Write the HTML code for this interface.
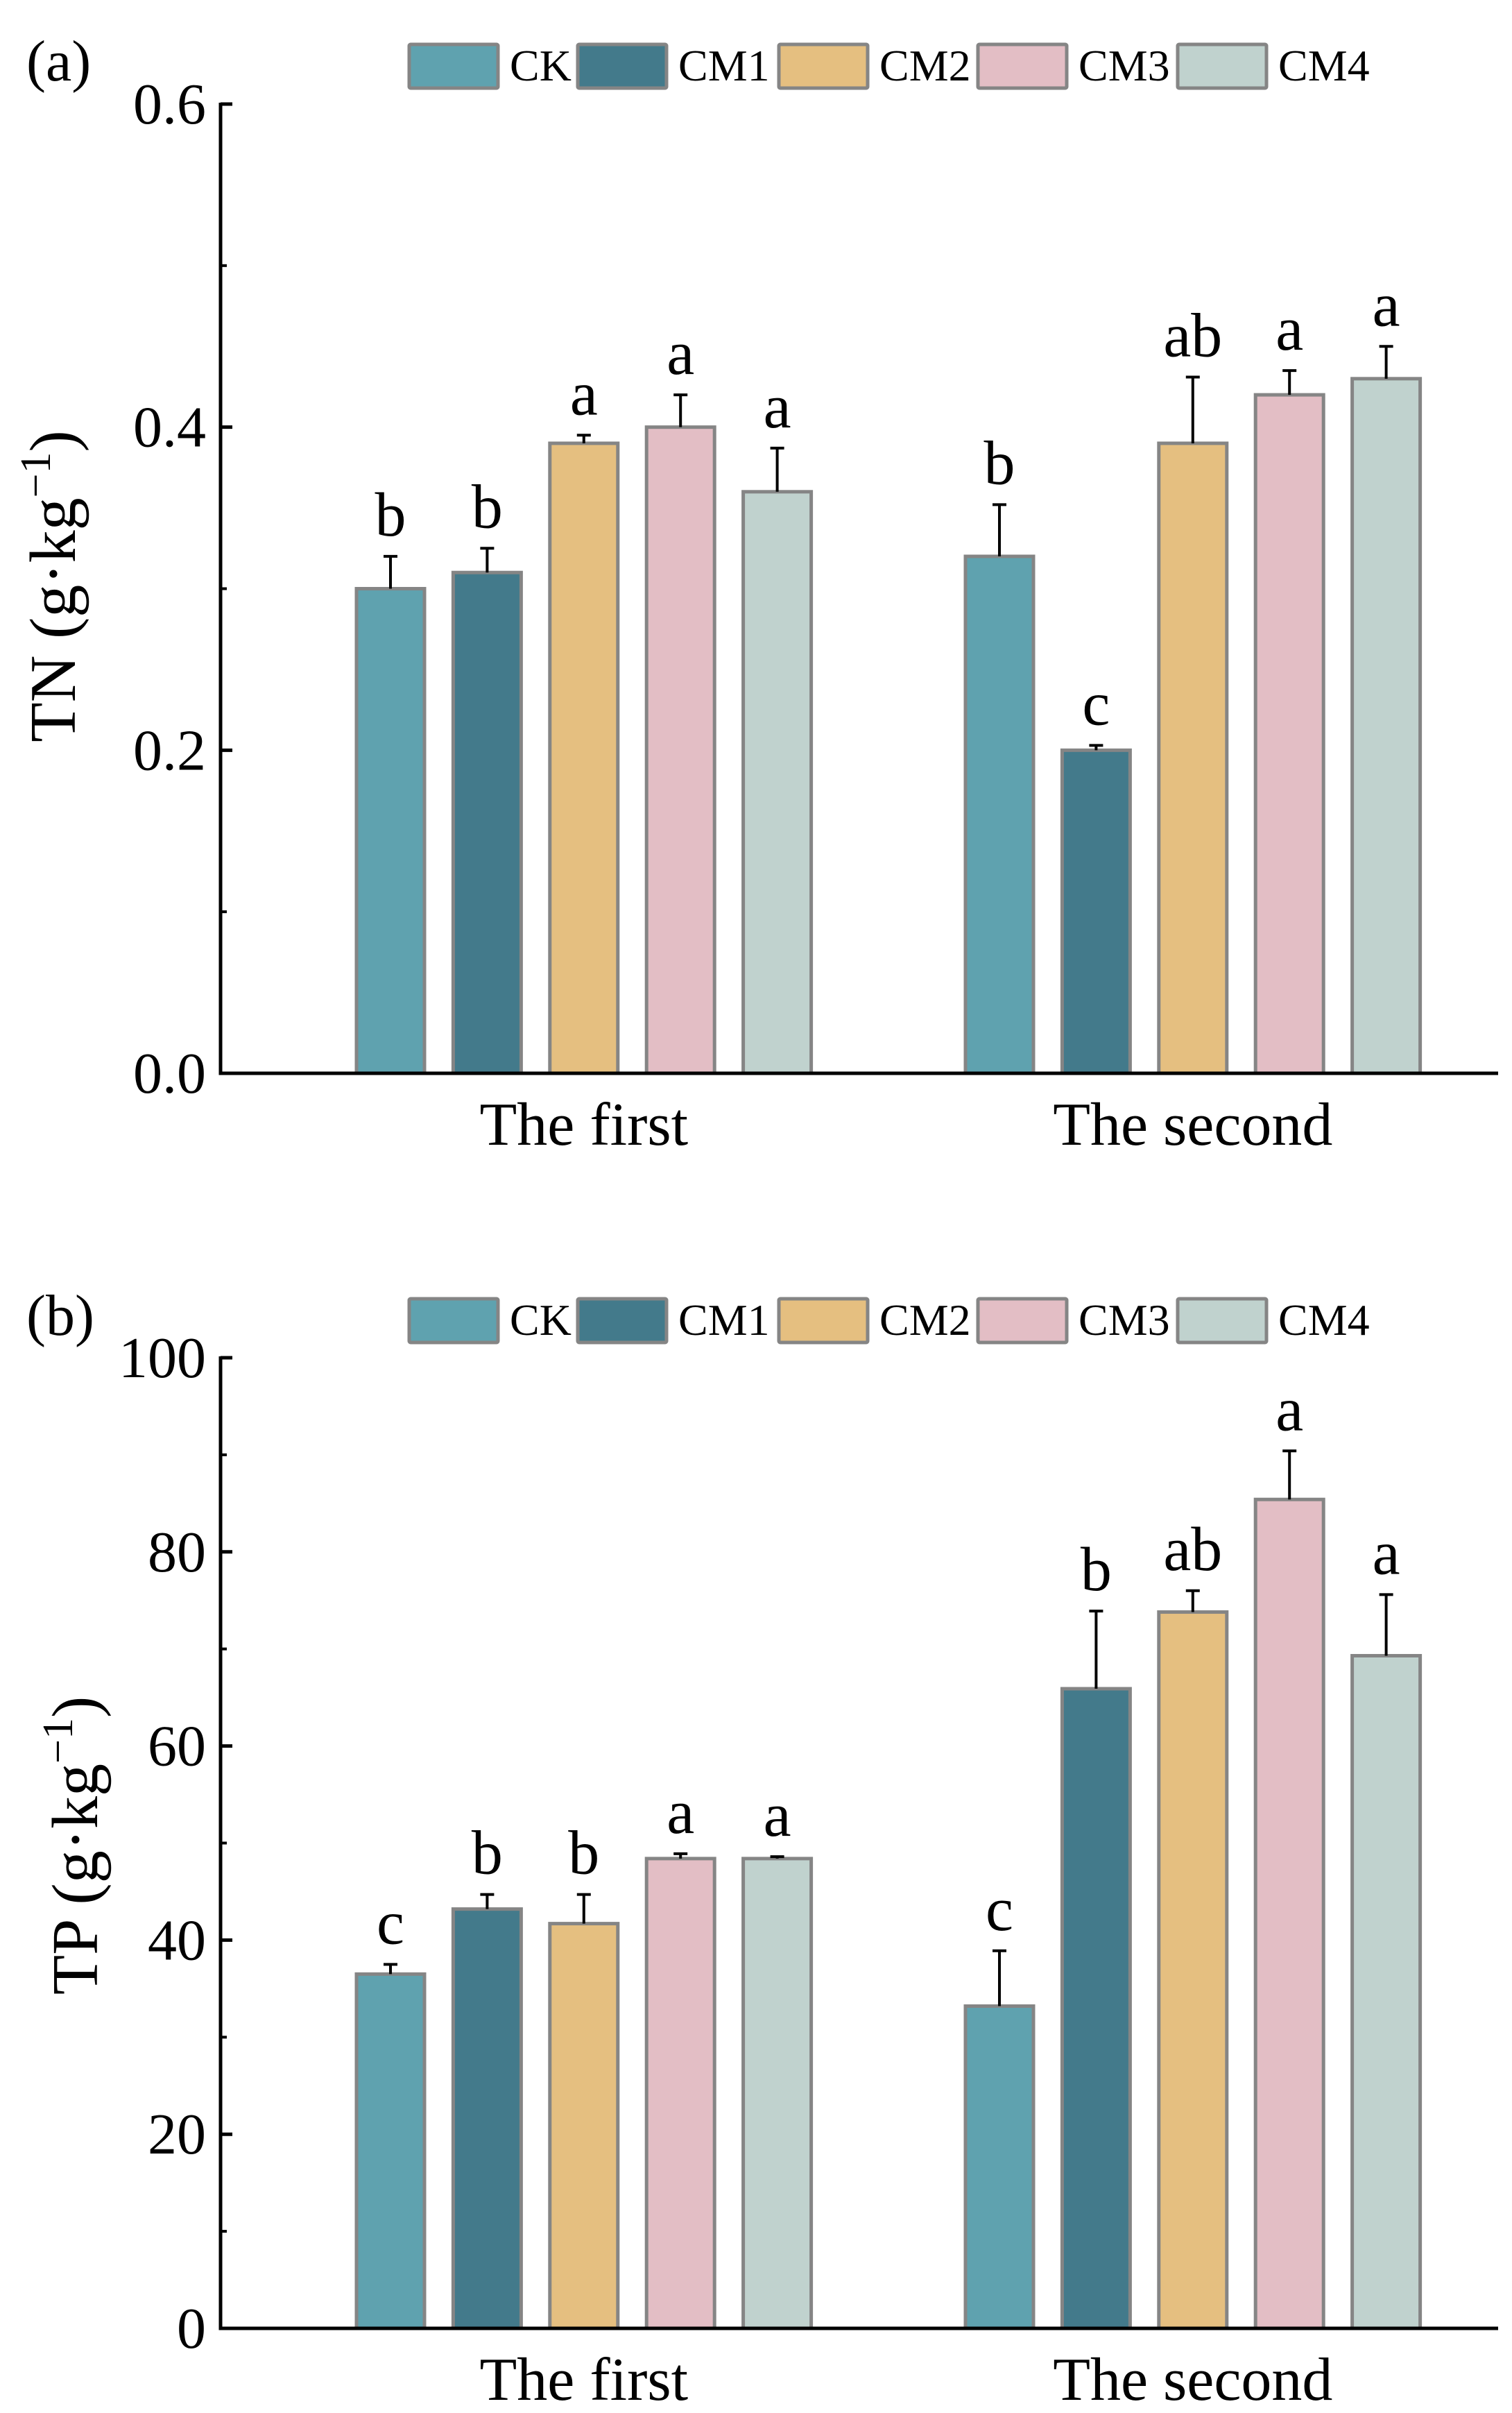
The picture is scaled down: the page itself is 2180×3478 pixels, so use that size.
<!DOCTYPE html>
<html><head><meta charset="utf-8"><style>
html,body{margin:0;padding:0;background:#fff}
svg{display:block}
text{font-family:"Liberation Serif",serif;fill:#000}
</style></head><body>
<svg id="chart" width="2180" height="3478" viewBox="0 0 2180 3478" xmlns="http://www.w3.org/2000/svg"></svg>
<script>
const series = ["CK","CM1","CM2","CM3","CM4"];
const colors = ["#5fa2af","#437a8b","#e5bf80","#e3bec5","#c0d2ce"];
const categories = ["The first","The second"];
const tnValues = [[0.30,0.31,0.39,0.40,0.36],[0.32,0.20,0.39,0.42,0.43]];
const tnErrors = [[0.02,0.015,0.005,0.02,0.027],[0.032,0.003,0.041,0.015,0.02]];
const tnLetters = [["b","b","a","a","a"],["b","c","ab","a","a"]];
const tnTicks = [0,0.2,0.4,0.6];
const tnTickLabels = ["0.0","0.2","0.4","0.6"];
const tpValues = [[36.5,43.2,41.7,48.4,48.4],[33.2,65.9,73.8,85.4,69.3]];
const tpErrors = [[1.0,1.5,3.0,0.5,0.2],[5.7,8.0,2.2,5.0,6.3]];
const tpLetters = [["c","b","b","a","a"],["c","b","ab","a","a"]];
const tpTicks = [0,20,40,60,80,100];
const tpTickLabels = ["0","20","40","60","80","100"];

const NS="http://www.w3.org/2000/svg";
const svg=document.getElementById('chart');
function mk(tag,attrs,parent,txt){const e=document.createElementNS(NS,tag);for(const k in attrs)e.setAttribute(k,attrs[k]);if(txt!==undefined)e.textContent=txt;(parent||svg).appendChild(e);return e;}

function panel(cfg){
  const g=mk('g',{});
  
  
  const x0=318,x1=2160,yb=cfg.y0,yt=cfg.yTop,vmax=cfg.max;
  const yScale=v=>yb-(v/vmax)*(yb-yt);
  const xScale=(gi,si)=>563+gi*878+si*139.4;
  for(let i=0;i<cfg.ticks.length-1;i++){
    const v=(cfg.ticks[i]+cfg.ticks[i+1])/2;
    const t=mk('line',{x1:x0,x2:x0+9,y1:yScale(v),y2:yScale(v),stroke:'#000','stroke-width':4},g);
    
    
  }
  cfg.ticks.forEach((v,i)=>{
    const t=mk('line',{x1:x0,x2:x0+17,y1:yScale(v),y2:yScale(v),stroke:'#000','stroke-width':5},g);
    
    
    const l=mk('text',{x:297,y:yScale(v)+28,'text-anchor':'end','font-size':84},g,cfg.labels[i]);
    
    
  });
  cfg.values.forEach((grp,gi)=>{
    grp.forEach((v,si)=>{
      const cx=xScale(gi,si);
      const r=mk('rect',{x:cx-49,y:yScale(v),width:98,height:yb-yScale(v),fill:colors[si],stroke:'#858585','stroke-width':5},g);
      
      
      const et=yScale(v+cfg.errors[gi][si]);
      const e1=mk('line',{x1:cx,x2:cx,y1:yScale(v),y2:et,stroke:'#000','stroke-width':4},g);
      
      
      const e2=mk('line',{x1:cx-10,x2:cx+10,y1:et,y2:et,stroke:'#000','stroke-width':4},g);
      
      
      const lt=mk('text',{x:cx,y:et-30,'text-anchor':'middle','font-size':90},g,cfg.letters[gi][si]);
      
      
    });
  });
  const ax=mk('path',{d:`M${x0},${yt-2} V${yb} H${x1}`,fill:'none',stroke:'#000','stroke-width':5},g);
  
  
  categories.forEach((c,gi)=>{
    const t=mk('text',{x:xScale(gi,2),y:yb+103,'text-anchor':'middle','font-size':88},g,c);
    
    
  });
  const yt2=mk('text',{transform:`translate(${cfg.titleX},${cfg.titleY}) rotate(-90)`,'text-anchor':'middle','font-size':94},g);
  
  
  mk('tspan',{},yt2,cfg.title+' (g·kg');
  mk('tspan',{dy:-36,'font-size':62},yt2,'−1');
  mk('tspan',{dy:36},yt2,')');
  const pl=mk('text',{x:38,y:cfg.legY+52,'font-size':84},g,cfg.tag);
  
  
  const lx=[590,833,1123,1410,1698];
  series.forEach((s,si)=>{
    const r=mk('rect',{x:lx[si],y:cfg.legY,width:128,height:63,fill:colors[si],stroke:'#858585','stroke-width':5,rx:2},g);
    
    
    const t=mk('text',{x:lx[si]+145,y:cfg.legY+52,'font-size':64},g,s);
    
    
  });
}
panel({name:'panel-a-tn',y0:1547,yTop:150,max:0.6,ticks:tnTicks,labels:tnTickLabels,values:tnValues,errors:tnErrors,letters:tnLetters,title:'TN',titleX:108,titleY:845,tag:'(a)',legY:64});
panel({name:'panel-b-tp',y0:3356,yTop:1957,max:100,ticks:tpTicks,labels:tpTickLabels,values:tpValues,errors:tpErrors,letters:tpLetters,title:'TP',titleX:140,titleY:2660,tag:'(b)',legY:1872});
</script>
</body></html>
